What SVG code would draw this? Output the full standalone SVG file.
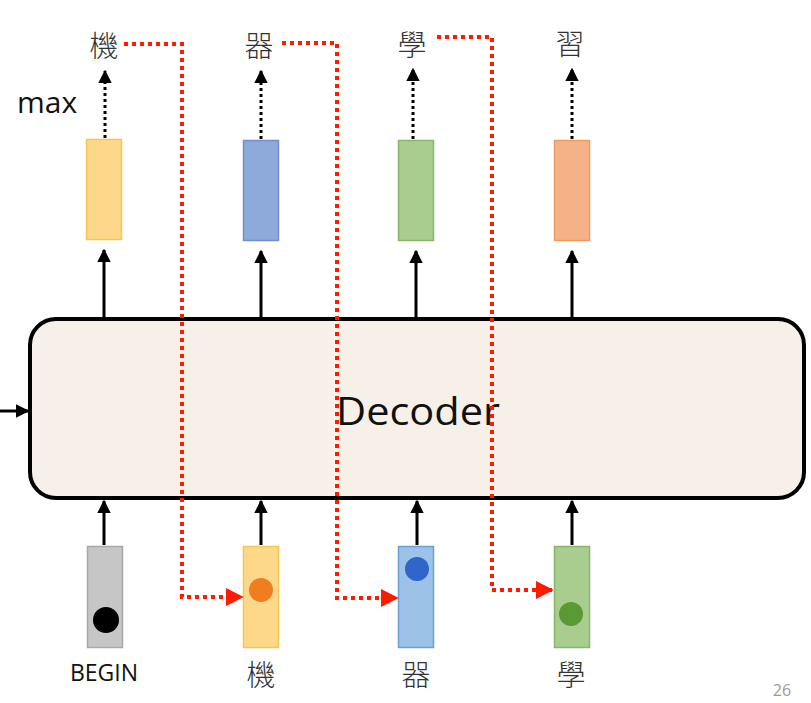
<svg xmlns="http://www.w3.org/2000/svg" width="811" height="703" viewBox="0 0 811 703">
<style>
.cjk{font-family:"Noto Sans CJK TC","Noto Sans CJK SC",sans-serif;font-size:29px;fill:#333;text-anchor:middle;font-weight:300}
.lat{font-family:"Open Sans","Liberation Sans",sans-serif;fill:#111}
.solid{stroke:#000;stroke-width:3;fill:none;marker-end:url(#ah)}
.dot{stroke:#000;stroke-width:3;fill:none;stroke-dasharray:3 3;marker-end:url(#ah)}
.red{stroke:#ff1a00;stroke-width:4;fill:none;stroke-dasharray:4 4}
.redh{marker-end:url(#rh)}
</style>
<defs>
<marker id="ah" viewBox="0 0 10 10" refX="9" refY="5" markerWidth="4.5" markerHeight="4.5" orient="auto" markerUnits="strokeWidth">
<path d="M0,0 L10,5 L0,10 z" fill="#000"/>
</marker>
<marker id="rh" viewBox="0 0 10 10" refX="9" refY="5" markerWidth="4.5" markerHeight="4.5" orient="auto" markerUnits="strokeWidth">
<path d="M0,0 L10,5 L0,10 z" fill="#ff1a00"/>
</marker>
</defs>
<rect width="811" height="703" fill="#fff"/>

<g id="decoder">
<rect x="30" y="319" width="774" height="179" rx="26" ry="26" fill="#f6f0e9" stroke="#000" stroke-width="4"/>
<text class="lat" x="336" y="425" font-size="39" textLength="164" lengthAdjust="spacingAndGlyphs">Decoder</text>
</g>

<g id="out-ji">
<rect x="86.5" y="139.5" width="35" height="100" fill="#fdd88a" stroke="#f5c74e" stroke-width="1.5"/>
<text class="cjk" x="104" y="57">機</text>
</g>
<g id="out-qi">
<rect x="243.5" y="140.5" width="35" height="100" fill="#8eaadb" stroke="#6e8fca" stroke-width="1.5"/>
<text class="cjk" x="259" y="57">器</text>
</g>
<g id="out-xue">
<rect x="398.5" y="140.5" width="35" height="100" fill="#a8cd8f" stroke="#88b46c" stroke-width="1.5"/>
<text class="cjk" x="412" y="56">學</text>
</g>
<g id="out-xi">
<rect x="554.5" y="140.5" width="35" height="100" fill="#f6b287" stroke="#ee9a60" stroke-width="1.5"/>
<text class="cjk" x="570" y="55">習</text>
</g>
<g id="max-label">
<text class="lat" x="17" y="113" font-size="30">max</text>
</g>

<g id="in-begin">
<rect x="87.5" y="546.5" width="35" height="101" fill="#c6c6c6" stroke="#a8a8a8" stroke-width="1.5"/>
<circle cx="106" cy="620" r="13" fill="#000"/>
<text class="lat" x="104" y="681" font-size="23" text-anchor="middle">BEGIN</text>
</g>
<g id="in-ji">
<rect x="243.5" y="546.5" width="35" height="101" fill="#fdd88a" stroke="#f5c74e" stroke-width="1.5"/>
<circle cx="261" cy="590" r="12" fill="#f07d1e"/>
<text class="cjk" x="261" y="686">機</text>
</g>
<g id="in-qi">
<rect x="398.5" y="546.5" width="35" height="101" fill="#9cc2e8" stroke="#6b9fd3" stroke-width="1.5"/>
<circle cx="417" cy="569" r="12" fill="#2f64c8"/>
<text class="cjk" x="416" y="686">器</text>
</g>
<g id="in-xue">
<rect x="554.5" y="546.5" width="35" height="101" fill="#a8cd8f" stroke="#88b46c" stroke-width="1.5"/>
<circle cx="571" cy="614" r="12" fill="#5a9a34"/>
<text class="cjk" x="571" y="686">學</text>
</g>

<g id="page-num">
<text class="lat" x="782" y="696" font-size="16" style="fill:#9a9a9a" text-anchor="middle">26</text>
</g>

<g id="connectors">
<line class="solid" x1="0" y1="411" x2="28" y2="411"/>
<line class="solid" x1="104" y1="317" x2="104" y2="250"/>
<line class="solid" x1="261" y1="317" x2="261" y2="251"/>
<line class="solid" x1="416" y1="317" x2="416" y2="251"/>
<line class="solid" x1="572" y1="317" x2="572" y2="251"/>
<line class="dot" x1="105" y1="138" x2="105" y2="71"/>
<line class="dot" x1="261" y1="139" x2="261" y2="71"/>
<line class="dot" x1="413" y1="139" x2="413" y2="69"/>
<line class="dot" x1="572" y1="139" x2="572" y2="69"/>
<line class="solid" x1="104" y1="545" x2="104" y2="501"/>
<line class="solid" x1="261" y1="545" x2="261" y2="501"/>
<line class="solid" x1="417" y1="545" x2="417" y2="501"/>
<line class="solid" x1="572" y1="545" x2="572" y2="501"/>
<path class="red redh" d="M124,44 H182 V597 H242"/>
<path class="red redh" d="M282,43 H337 V598 H397"/>
<path class="red redh" d="M437,37 H492 V590 H552"/>
</g>
</svg>
